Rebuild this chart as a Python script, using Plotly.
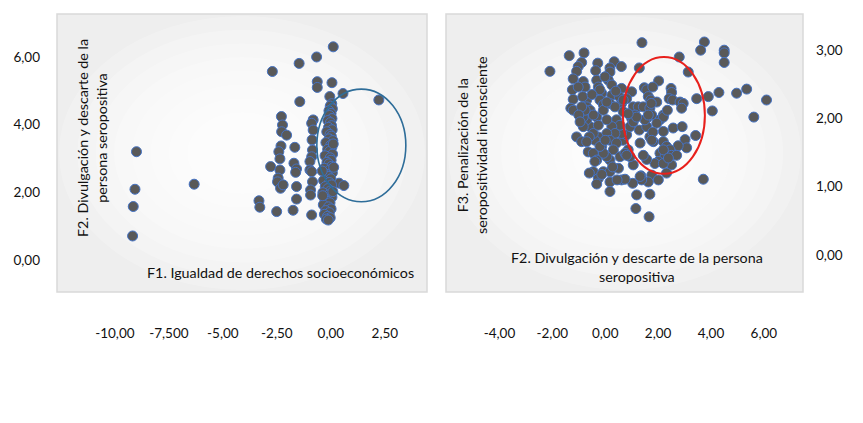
import plotly.graph_objects as go

W, H = 863, 423

# --- left chart: F1 (x) vs F2 (y) ---
f1_scatter = [0.11, -0.66, -1.47, -2.71, -0.63, -0.63, 0.05, -0.05, 0.56, 2.22,
              -1.44, -2.29, -2.24, -2.28, -2.05, -0.82, -0.89, -0.82, -0.87, -2.31,
              -2.41, -2.36, -1.67, -0.85, -0.89, -0.97, -1.71, -1.59, -1.63, -2.79,
              -2.36, -2.44, -2.47, -2.33, -2.21, -0.97, -0.89, -0.85, -1.59, -0.94,
              -0.94, -1.59, 0.38, 0.60, -3.33, -3.29, -2.51, -1.75, -0.89, -9.00,
              -9.07, -9.15, -9.18, -6.33]
f2_scatter = [6.30, 6.00, 5.81, 5.57, 5.27, 5.10, 5.24, 4.83, 4.92, 4.73,
              4.68, 4.24, 3.99, 3.79, 3.69, 4.14, 4.04, 3.84, 3.55, 3.37,
              3.20, 2.99, 3.33, 3.25, 3.05, 2.91, 2.86, 2.69, 2.59, 2.76,
              2.66, 2.42, 2.31, 2.12, 2.22, 2.66, 2.61, 2.31, 2.17, 2.07,
              1.92, 1.80, 2.27, 2.20, 1.75, 1.56, 1.43, 1.47, 1.33, 3.20,
              2.09, 1.58, 0.71, 2.24]
# dense column near zero
f1_column = [0.04, -0.03, 0.07, -0.09, 0.01, -0.06, 0.05, -0.14, -0.02, 0.03,
             -0.11, 0.06, -0.19, -0.04, 0.02, -0.08, 0.09, -0.23, -0.01, 0.05,
             -0.15, -0.06, 0.08, -0.27, -0.03, 0.01, -0.18, -0.09, 0.04, -0.31,
             -0.05, 0.07, -0.21, -0.12, 0.00, -0.34, -0.07, 0.03, -0.26, -0.14,
             -0.02, -0.37, -0.09, 0.05, -0.29, -0.17, -0.04, -0.35, -0.11, 0.01,
             -0.24, -0.07, -0.30, -0.16, -0.03, -0.21, -0.12, 0.11, 0.13, 0.09,
             -0.40, -0.38]
f2_column = [4.62, 4.55, 4.47, 4.41, 4.33, 4.27, 4.18, 4.12, 4.06, 3.97,
             3.92, 3.85, 3.79, 3.71, 3.66, 3.58, 3.53, 3.47, 3.39, 3.34,
             3.27, 3.21, 3.13, 3.08, 3.02, 2.95, 2.89, 2.84, 2.77, 2.71,
             2.66, 2.58, 2.53, 2.47, 2.40, 2.35, 2.29, 2.22, 2.17, 2.11,
             2.04, 1.99, 1.93, 1.86, 1.81, 1.74, 1.69, 1.63, 1.57, 1.51,
             1.46, 1.40, 1.35, 1.29, 1.25, 1.21, 1.18, 3.43, 2.74, 2.02,
             2.63, 1.90]

# --- right chart: F2 (x) vs F3 (y) ---
f2_right = [-2.09, -1.36, -0.80, 1.39, 3.75, 3.61, 4.50, 4.50, 4.50, 2.80,
            1.29, 3.14, 2.02, 0.34, 0.61, -0.28, -0.36, 0.18, 0.18, -0.89,
            -1.02, -1.08, -1.21, -1.24, -1.21, -1.30, -1.21, -1.08, -0.89, -0.83,
            -0.76, -0.32, -0.26, -0.70, -0.70, 0.12, 0.25, -0.13, -0.20, -0.07,
            0.25, 0.18, 0.62, 0.53, 1.00, 0.81, 0.62, 1.48, 1.57, 1.80,
            2.49, 2.51, 2.42, 2.55, 2.83, 2.95, 2.89, 3.46, 3.90, 4.30,
            4.97, 5.35, 6.10, 5.62, 4.05, 1.63, 1.72, 1.95, 1.06, 1.25,
            1.44, 1.13, 1.00, 1.69, 1.76, 1.57, 2.20, 2.07, 2.57, 2.91,
            3.42, 3.02, 3.08, 2.76, 2.20, 2.32, 2.45, 2.51, 2.07, 2.26,
            2.70, 2.51, 2.32, 2.01, 1.88, 1.57, 1.44, 1.69, 1.82, 1.29,
            1.32, 1.57, 1.50, 3.71, 1.76, 2.01, 1.63, 1.35, 1.38, 1.04,
            1.19, 1.69, 1.16, 1.66, 0.62, 0.75, 1.06, 0.94, 0.87, 0.68,
            0.81, 0.62, 0.94, 1.06, 1.19, 0.68, 0.87, 0.43, 0.56, 0.25,
            0.37, 0.06, 0.18, 0.43, 0.31, 0.56, 0.75, 0.18, 0.06, -0.13,
            -0.07, -0.26, -0.39, -0.57, -0.45, -0.70, -0.83, -0.32, -0.26, -0.07,
            0.06, -0.57, -0.45, -0.83, -0.76, -0.60, -0.70, -0.64, -0.45, -0.32,
            -0.20, -0.39, -0.45, -0.60, -0.07, 0.18, -0.26, 0.18, -0.32, 0.18,
            0.81, 0.50, 0.28, 0.68, 0.37, 0.06, -0.20, -0.01, -0.85, -0.89,
            -1.02, 2.20, 2.20, 2.35, 1.95, 1.80, 2.20, -0.13, 1.32, 1.74,
            1.63, 2.20, 2.39, 1.76, -0.50, 0.40, -1.00, 0.00, 0.45, -0.95]
f3_right = [2.69, 2.92, 2.96, 3.11, 3.12, 3.00, 3.00, 2.96, 2.82, 2.90,
            2.74, 2.68, 2.55, 2.83, 2.76, 2.81, 2.70, 2.74, 2.68, 2.82,
            2.76, 2.69, 2.58, 2.42, 2.28, 2.15, 2.12, 1.73, 1.66, 2.54,
            2.46, 2.56, 2.46, 2.27, 2.17, 2.56, 2.49, 2.37, 2.27, 2.20,
            2.34, 2.22, 2.44, 2.32, 2.39, 2.29, 2.22, 2.45, 2.42, 2.46,
            2.44, 2.38, 2.29, 2.27, 2.24, 2.22, 2.15, 2.29, 2.32, 2.38,
            2.37, 2.43, 2.27, 2.02, 2.11, 2.32, 2.27, 2.24, 2.17, 2.17,
            2.17, 2.05, 2.00, 2.15, 2.05, 2.00, 2.05, 1.98, 1.86, 1.88,
            1.75, 1.69, 1.57, 1.60, 1.66, 1.59, 1.54, 1.46, 1.49, 1.44,
            1.46, 1.32, 1.20, 1.37, 1.34, 1.40, 1.46, 1.73, 1.66, 1.83,
            1.64, 1.88, 1.98, 1.11, 1.17, 1.10, 1.07, 1.16, 1.10, 1.05,
            0.88, 0.89, 0.68, 0.56, 1.10, 1.11, 1.32, 1.44, 1.54, 1.68,
            1.76, 1.78, 1.88, 1.95, 2.02, 2.10, 2.07, 1.98, 1.90, 1.88,
            1.78, 1.78, 1.68, 1.64, 1.54, 1.44, 1.49, 1.39, 1.44, 1.59,
            1.49, 1.73, 1.68, 1.88, 1.78, 1.98, 1.88, 2.02, 1.90, 2.12,
            1.98, 2.12, 2.05, 2.02, 2.12, 1.73, 1.66, 1.51, 1.49, 1.39,
            1.59, 1.37, 1.22, 1.20, 1.22, 1.22, 1.12, 1.07, 1.04, 0.93,
            1.46, 1.27, 1.29, 2.27, 2.17, 2.24, 2.42, 2.61, 2.32, 2.17,
            2.46, 1.81, 2.02, 2.12, 1.93, 1.80, 1.34, 1.18, 1.15, 2.22,
            2.05, 1.54, 1.42, 1.68, 2.35, 2.40, 2.05, 1.68, 1.10, 1.95]

x1_ticks = [-10, -7.5, -5, -2.5, 0, 2.5]
x1_text = ["-10,00", "-7,500", "-5,00", "-2,50", "0,00", "2,50"]
y1_ticks = [0, 2, 4, 6]
y1_text = ["0,00", "2,00", "4,00", "6,00"]
x2_ticks = [-4, -2, 0, 2, 4, 6]
x2_text = ["-4,00", "-2,00", "0,00", "2,00", "4,00", "6,00"]
y2_ticks = [0, 1, 2, 3]
y2_text = ["0,00", "1,00", "2,00", "3,00"]

FONT = "Lato"
marker = dict(size=10, color="#595959", line=dict(color="#4472c4", width=1))


def px(x):
    return x / W


def py(y):
    return 1 - y / H


fig = go.Figure()
fig.add_trace(go.Scatter(x=f1_scatter + f1_column, y=f2_scatter + f2_column,
                         mode="markers", marker=marker, xaxis="x", yaxis="y"))
fig.add_trace(go.Scatter(x=f2_right, y=f3_right, mode="markers", marker=marker,
                         xaxis="x2", yaxis="y2"))

# panel boxes with a soft radial fill
shapes = []
for (l, t, r, b) in [(57, 14, 427, 292), (446, 14, 803, 292)]:
    shapes.append(dict(type="rect", xref="paper", yref="paper", layer="below",
                       x0=px(l), x1=px(r), y0=py(b), y1=py(t),
                       fillcolor="#eeeeee", line=dict(color="#d9d9d9", width=1.5)))
    cx, cy = (l + r) / 2, (t + b) / 2
    hw, hh = (r - l) / 2 - 2, (b - t) / 2 - 2
    for k in [1.0, 0.9, 0.8, 0.7, 0.6, 0.5, 0.4, 0.3, 0.2]:
        shapes.append(dict(type="circle", xref="paper", yref="paper", layer="below",
                           x0=px(cx - hw * k), x1=px(cx + hw * k),
                           y0=py(cy + hh * k), y1=py(cy - hh * k),
                           fillcolor="rgba(255,255,255,0.22)", line=dict(width=0)))

# highlight ellipses
shapes.append(dict(type="circle", xref="x", yref="y", x0=-0.65, x1=3.47, y0=1.72, y1=5.05,
                   line=dict(color="#2e6d99", width=1.6)))
shapes.append(dict(type="circle", xref="x2", yref="y2", x0=0.67, x1=3.77, y0=1.19, y1=2.90,
                   line=dict(color="#e8201c", width=2)))

tickfont = dict(family=FONT, size=13.5, color="#111111")
common = dict(showgrid=False, zeroline=False, showline=False, ticks="", tickfont=tickfont)

fig.update_layout(
    width=W, height=H,
    margin=dict(l=0, r=0, t=0, b=0),
    paper_bgcolor="white", plot_bgcolor="rgba(0,0,0,0)",
    showlegend=False,
    shapes=shapes,
    xaxis=dict(domain=[px(57), px(427)], range=[-12.68, 4.45], anchor="free",
               position=py(323), tickvals=x1_ticks, ticktext=x1_text, **common),
    yaxis=dict(domain=[py(292), py(14)], range=[-0.946, 7.27], anchor="free",
               position=px(40), tickvals=y1_ticks, ticktext=y1_text, **common),
    xaxis2=dict(domain=[px(446), px(803)], range=[-6.02, 7.48], anchor="free",
                position=py(323), tickvals=x2_ticks, ticktext=x2_text, **common),
    yaxis2=dict(domain=[py(292), py(14)], range=[-0.542, 3.53], anchor="free",
                position=px(815), side="right", tickvals=y2_ticks, ticktext=y2_text, **common),
)

titlefont = dict(family=FONT, size=14.3, color="#111111")
annotations = [
    dict(text="F1. Igualdad de derechos socioeconómicos", x=px(280), y=py(272)),
    dict(text="F2. Divulgación y descarte de la<br>persona seropositiva", x=px(92), y=py(138),
         textangle=-90),
    dict(text="F2. Divulgación y descarte de la persona<br>seropositiva", x=px(637), y=py(267)),
    dict(text="F3. Penalización de la<br>seropositividad inconsciente", x=px(472), y=py(145),
         textangle=-90),
]
for a in annotations:
    fig.add_annotation(xref="paper", yref="paper", showarrow=False, xanchor="center",
                       yanchor="middle", font=titlefont, **a)

# page body has a default 8px margin; drop it so the figure sits at the page corner
fig.write_html("out.html", config={"displayModeBar": False},
               post_script="document.body.style.margin='0px';")
